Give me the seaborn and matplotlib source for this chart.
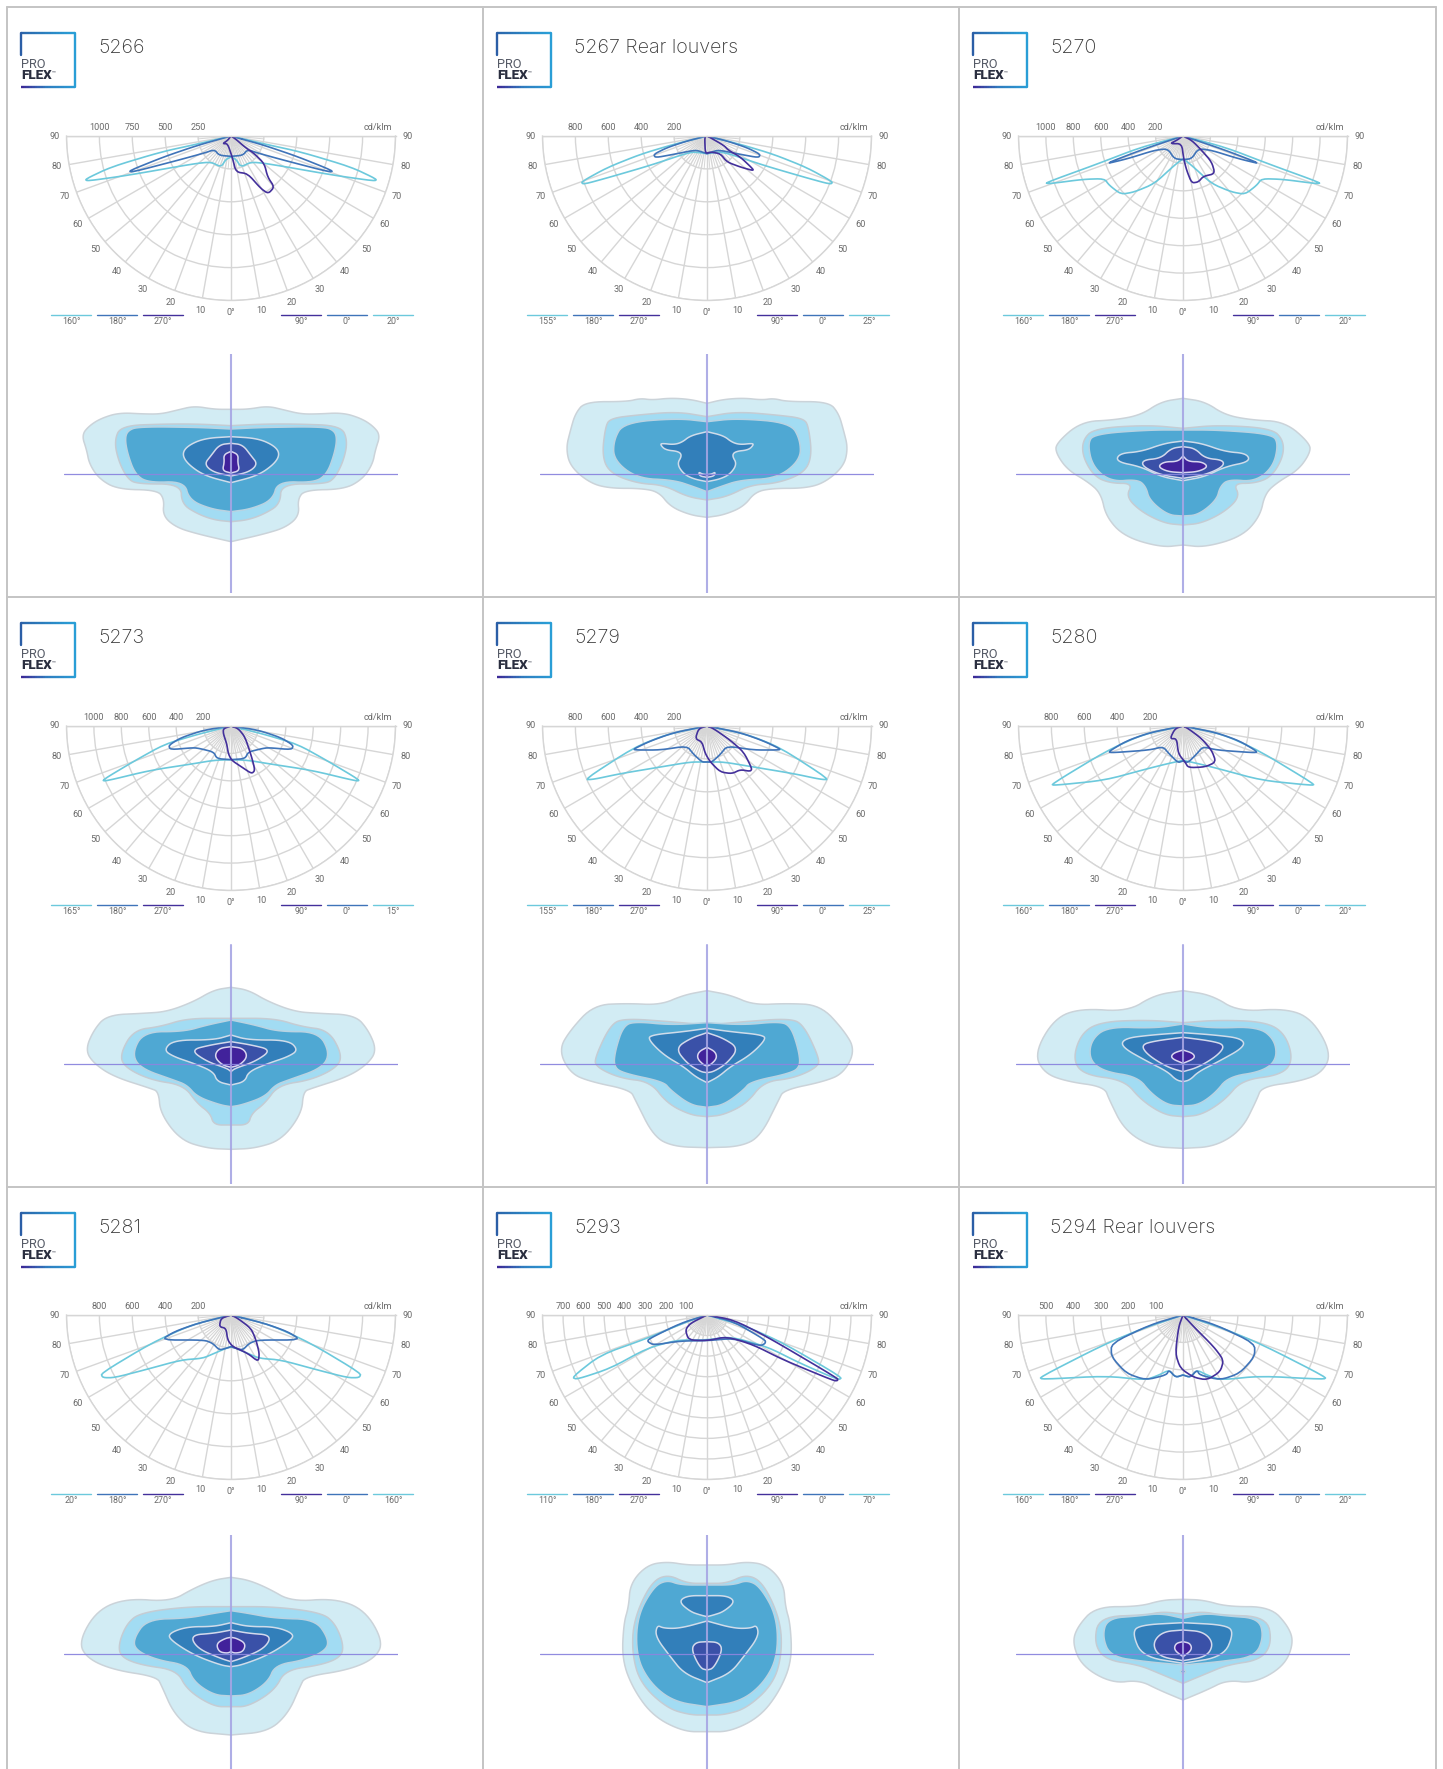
import numpy as np
import seaborn as sns
import matplotlib.pyplot as plt

W, H = 1443, 1769

LIGHT_5266 = [(0,0),(105,25),(210,48),(360,93),(438,130),(430,135),(310,118),(110,83),(60,78),(30,93),(15,70),(0,63)]
MID_5266 = [(0,0),(100,28),(200,62),(307,105),(295,108),(160,73),(80,51),(50,41),(35,58),(0,61)]
DARK_5266 = [(0,0),(15,10),(40,32),(70,53),(100,83),(110,123),(130,153),(112,173),(90,158),(50,113),(15,108),(5,68),(-10,23),(-25,23),(-10,13),(0,0)]

LIGHT_5267 = [(0,0),(100,25),(200,55),(300,95),(378,138),(370,145),(290,123),(170,88),(50,48),(20,50),(0,53)]
MID_5267 = [(0,0),(60,15),(120,35),(160,55),(155,65),(100,55),(50,45),(30,43),(0,53)]
DARK_5267 = [(0,0),(10,5),(50,28),(65,43),(100,63),(140,101),(135,103),(100,93),(60,78),(40,53),(10,48),(-5,53),(-7,3),(0,0)]

LIGHT_5270 = [(0,0),(130,35),(260,85),(414,141),(400,143),(300,130),(236,128),(221,148),(186,175),(146,168),(86,143),(26,88),(0,68)]
MID_5270 = [(0,0),(120,40),(237,85),(166,68),(86,43),(46,38),(26,68),(0,71)]
DARK_5270 = [(0,0),(26,13),(56,43),(86,78),(96,113),(61,121),(46,138),(26,141),(11,103),(2,68),(-4,23),(-39,23),(-19,13),(0,0)]

LIGHT_5273 = [(0,0),(100,25),(200,55),(290,105),(387,163),(375,165),(242,133),(112,113),(52,103),(0,101)]
MID_5273 = [(0,0),(80,12),(150,35),(187,58),(182,71),(112,65),(92,68),(52,78),(42,98),(0,101)]
DARK_5273 = [(0,0),(22,8),(42,33),(62,93),(72,133),(62,143),(32,123),(2,103),(-8,83),(-13,53),(-23,23),(-23,8),(0,0)]

LIGHT_5279 = [(0,0),(120,25),(220,65),(368,161),(340,160),(260,143),(140,123),(50,108),(0,108)]
MID_5279 = [(0,0),(100,20),(170,45),(222,70),(210,72),(140,72),(60,60),(40,85),(15,108),(0,108)]
DARK_5279 = [(0,0),(20,8),(70,43),(110,78),(135,128),(130,136),(100,131),(75,143),(40,138),(10,108),(-5,83),(-15,48),(-35,38),(-25,8),(0,0)]

LIGHT_5280 = [(0,0),(120,25),(230,75),(395,175),(385,178),(236,163),(106,128),(46,113),(0,103)]
MID_5280 = [(0,0),(100,20),(170,45),(225,78),(210,80),(100,72),(60,62),(40,85),(15,110),(0,105)]
DARK_5280 = [(0,0),(16,8),(56,38),(86,73),(99,108),(66,123),(16,125),(6,108),(-14,83),(-19,38),(-39,38),(-24,8),(0,0)]

LIGHT_5281 = [(0,0),(120,30),(240,85),(390,175),(385,188),(350,188),(260,165),(150,135),(85,130),(50,115),(15,100),(0,95)]
MID_5281 = [(0,0),(100,25),(170,50),(210,75),(80,75),(55,85),(35,105),(15,100),(0,95)]
DARK_5281 = [(0,0),(20,10),(60,40),(75,75),(85,115),(82,140),(50,115),(5,95),(-10,75),(-15,40),(-35,35),(-30,10),(0,0)]

# 5293 is not mirrored, so the whole loop is listed
LIGHT_5293 = [(0,0),(120,35),(230,85),(405,187),(395,195),(280,145),(180,95),(70,65),(0,75),(-90,75),(-180,100),(-290,160),(-390,193),(-405,187),(-320,120),(-180,70),(-60,20),(0,0)]
MID_5293 = [(0,0),(80,20),(175,75),(175,85),(160,93),(80,70),(0,77),(-80,78),(-160,90),(-178,80),(-175,72),(-80,25),(0,0)]
DARK_5293 = [(0,0),(80,15),(180,65),(392,190),(392,197),(380,197),(230,135),(140,90),(60,65),(0,77),(-55,75),(-65,45),(-50,25),(0,0)]

LIGHT_5294 = [(0,0),(120,40),(240,90),(430,187),(422,193),(232,183),(112,195),(72,180),(42,165),(22,187),(0,180)]
MID_5294 = [(0,0),(100,30),(215,85),(215,125),(170,175),(112,195),(50,180),(42,165),(22,187),(0,180)]
DARK_5294 = [(0,0),(32,35),(92,95),(122,135),(112,170),(72,195),(32,187),(-8,160),(-23,115),(-13,35),(0,0)]

# isolux outlines, right half from top centre to bottom centre (px at 3x, y up)
ISO_5266 = [
    [(0,194),(50,194),(110,204),(160,192),(210,180),(260,180),(335,184),(390,167),(425,145),(448,117),(433,72),(425,30),(395,-15),(340,-46),(222,-48),(200,-75),(205,-125),(165,-160),(100,-180),(0,-203)],
    [(0,145),(100,150),(200,150),(330,145),(350,100),(338,40),(310,-15),(280,-30),(150,-30),(148,-90),(100,-120),(50,-138),(0,-143)],
    [(0,135),(100,140),(278,142),(310,130),(318,105),(310,60),(288,0),(250,-26),(140,-22),(125,-78),(60,-105),(0,-113)],
    [(0,112),(80,107),(130,85),(147,60),(130,30),(80,-5),(0,-26)],
    [(0,92),(35,88),(60,55),(80,30),(55,6),(0,-6)],
    [(0,68),(22,58),(20,35),(26,10),(0,3)],
]
ISO_5267 = [
    [(0,212),(50,224),(110,228),(165,222),(200,227),(240,217),(365,217),(395,182),(410,130),(423,77),(410,22),(350,-28),(290,-43),(200,-43),(145,-53),(110,-98),(50,-123),(0,-130)],
    [(0,172),(90,187),(210,177),(290,167),(305,142),(315,52),(290,2),(210,-28),(130,-33),(60,-68),(0,-78)],
    [(0,157),(90,167),(250,154),(280,102),(280,42),(210,-13),(100,-18),(40,-38),(0,-53)],
    [(0,127),(50,115),(75,95),(100,88),(135,92),(140,88),(125,72),(85,68),(75,55),(90,30),(70,0),(40,-15),(0,-23)],
    [(0,-2),(15,0),(25,6),(22,-6),(0,-10)],
]
ISO_5270 = [
    [(0,227),(66,217),(126,177),(206,162),(306,157),(381,92),(381,62),(346,12),(286,-23),(246,-58),(231,-128),(176,-188),(66,-220),(0,-213)],
    [(0,137),(106,147),(266,137),(301,102),(301,52),(266,-8),(216,-28),(151,-28),(171,-68),(126,-113),(56,-148),(0,-153)],
    [(0,132),(106,132),(266,120),(286,92),(271,22),(216,-23),(136,-16),(111,-38),(101,-78),(46,-123),(0,-126)],
    [(0,99),(56,92),(126,67),(191,62),(201,37),(126,22),(66,-8),(0,-20)],
    [(0,82),(36,77),(66,47),(121,42),(121,22),(66,-3),(0,-13)],
    [(0,54),(16,37),(56,37),(76,22),(46,7),(0,4)],
]
ISO_5273 = [
    [(0,230),(52,222),(112,187),(192,157),(262,152),(372,147),(412,102),(437,42),(412,2),(352,-38),(242,-73),(217,-83),(212,-148),(152,-228),(72,-253),(0,-256)],
    [(0,137),(132,137),(212,112),(292,102),(332,32),(322,-8),(242,-48),(142,-63),(102,-118),(62,-148),(52,-183),(0,-183)],
    [(0,132),(72,117),(142,97),(262,97),(297,32),(272,-13),(172,-48),(132,-63),(102,-98),(32,-123),(0,-128)],
    [(0,87),(52,72),(172,72),(202,42),(172,22),(112,2),(52,-23),(42,-53),(0,-63)],
    [(0,67),(62,57),(122,42),(72,7),(12,-13),(0,-23)],
    [(0,52),(37,47),(50,22),(27,-3),(0,-10)],
]
ISO_5279 = [
    [(0,220),(70,207),(140,177),(240,182),(340,177),(410,102),(445,42),(410,-28),(350,-53),(230,-78),(215,-108),(160,-218),(100,-248),(0,-251)],
    [(0,117),(110,127),(250,137),(290,117),(335,22),(335,-8),(260,-43),(170,-53),(120,-118),(50,-153),(0,-158)],
    [(0,124),(110,117),(210,127),(250,117),(275,42),(280,-8),(250,-28),(130,-53),(110,-78),(50,-123),(0,-130)],
    [(0,107),(70,97),(170,87),(175,72),(130,27),(70,-8),(35,-38),(0,-56)],
    [(0,94),(50,77),(95,47),(60,2),(20,-23),(0,-26)],
    [(0,50),(25,37),(30,17),(10,-3),(0,-6)],
]
ISO_5280 = [
    [(0,220),(86,207),(166,157),(306,167),(386,137),(446,32),(416,-28),(346,-53),(236,-68),(221,-108),(176,-198),(96,-248),(0,-253)],
    [(0,124),(106,132),(246,127),(306,92),(331,12),(296,-33),(176,-48),(126,-108),(56,-153),(0,-158)],
    [(0,120),(86,107),(226,112),(276,72),(281,12),(236,-23),(136,-38),(96,-88),(46,-123),(0,-126)],
    [(0,94),(96,87),(176,77),(186,52),(106,7),(46,-23),(21,-48),(0,-53)],
    [(0,80),(86,69),(126,57),(106,27),(46,-10),(0,-23)],
    [(0,42),(31,32),(36,17),(0,2)],
]
ISO_5281 = [
    [(0,230),(52,222),(112,197),(182,157),(312,167),(402,132),(457,37),(432,-13),(352,-48),(222,-68),(207,-98),(172,-178),(112,-233),(0,-243)],
    [(0,142),(132,142),(272,124),(312,92),(337,32),(332,-8),(272,-33),(162,-48),(132,-108),(52,-158),(0,-158)],
    [(0,130),(52,122),(132,107),(252,104),(292,47),(287,12),(222,-18),(132,-33),(112,-83),(52,-123),(0,-126)],
    [(0,94),(52,82),(132,82),(187,62),(182,42),(112,-3),(32,-33),(0,-38)],
    [(0,72),(52,62),(122,57),(102,17),(32,-13),(0,-23)],
    [(0,50),(17,47),(44,32),(37,7),(12,2),(0,7)],
]
ISO_5293 = [
    [(0,267),(60,267),(120,277),(180,267),(230,212),(235,142),(250,92),(255,-18),(220,-108),(160,-188),(70,-233),(0,-233)],
    [(0,212),(60,212),(120,240),(170,212),(220,102),(225,2),(200,-88),(120,-163),(50,-183),(0,-183)],
    [(0,207),(80,207),(120,222),(160,202),(210,112),(212,-8),(170,-88),(100,-143),(0,-158)],
    [(0,175),(60,175),(85,157),(50,127),(20,117),(0,112)],
    [(0,99),(80,77),(130,77),(150,87),(155,52),(110,-8),(70,-58),(0,-86)],
    [(0,37),(35,35),(47,12),(20,-43),(0,-48)],
]
LEVELS_5293 = [0, 1, 2, 3, 3, 4]
ISO_5294 = [
    [(0,164),(62,162),(132,142),(262,142),(317,82),(332,32),(302,-38),(212,-88),(132,-78),(72,-108),(0,-138)],
    [(0,120),(62,127),(112,117),(252,112),(267,32),(232,-18),(132,-33),(72,-58),(12,-83),(0,-88)],
    [(0,107),(67,122),(132,114),(227,107),(242,52),(217,-8),(112,-23),(0,-33)],
    [(0,-45),(10,-53),(0,-60)],
    [(0,94),(132,87),(152,62),(122,-8),(0,-28)],
    [(0,72),(62,67),(92,32),(72,-8),(0,-20)],
    [(0,37),(22,32),(27,12),(0,-8)],
]
LEVELS_5294 = [0, 1, 2, 2, 3, 4, 5]

TITLES = ["5266", "5267 Rear louvers", "5270", "5273", "5279", "5280", "5281", "5293", "5294 Rear louvers"]
OUTER = [1250, 1000, 1200, 1200, 1000, 1000, 1000, 800, 600]
STEP = [250, 200, 200, 200, 200, 200, 200, 100, 100]
LEFT_PLANE = ["160°", "155°", "160°", "165°", "155°", "160°", "20°", "110°", "160°"]
RIGHT_PLANE = ["20°", "25°", "20°", "15°", "25°", "20°", "160°", "70°", "20°"]

LIGHTS = [LIGHT_5266, LIGHT_5267, LIGHT_5270, LIGHT_5273, LIGHT_5279, LIGHT_5280, LIGHT_5281, LIGHT_5293, LIGHT_5294]
MIDS = [MID_5266, MID_5267, MID_5270, MID_5273, MID_5279, MID_5280, MID_5281, MID_5293, MID_5294]
DARKS = [DARK_5266, DARK_5267, DARK_5270, DARK_5273, DARK_5279, DARK_5280, DARK_5281, DARK_5293, DARK_5294]
ISOS = [ISO_5266, ISO_5267, ISO_5270, ISO_5273, ISO_5279, ISO_5280, ISO_5281, ISO_5293, ISO_5294]

C_LIGHT, C_MID, C_DARK = "#6cc9dc", "#3f74b9", "#43309b"
C_GRID = "#d6d6d6"
C_TEXT = "#6a6a6a"
FILLS = ["#d2ecf4", "#a2dcf3", "#4fa8d3", "#327fba", "#3a51a8", "#41229b"]
EDGES = ["#cbd3d9", "#c5ccd3", "#b9d3e2", "#cfdcea", "#d3d9ec", "#d9d6f0"]

COL_X = [231, 707, 1183]
ROW_Y = [136, 726, 1315]
ISO_Y = [474, 1064, 1654]
PANEL_X = [7, 483, 959, 1436]
PANEL_Y = [7, 597, 1187, 1769]
R = 164.5

sns.set_theme(style="white")
plt.rcParams["font.family"] = ["Roboto", "DejaVu Sans"]


def smooth(pts, cut=0.2, n=2):
    # corner cutting on a closed loop
    p = np.asarray(pts, dtype=float)
    for _ in range(n):
        q = np.roll(p, -1, axis=0)
        p = np.column_stack([(1 - cut) * p + cut * q, cut * p + (1 - cut) * q]).reshape(-1, 2)
    return np.vstack([p, p[:1]])


def mirror(pts):
    p = np.asarray(pts, dtype=float)
    return np.vstack([p, p[::-1] * [-1, 1]])


def draw_polar(i, cx, cy):
    outer = OUTER[i]
    # a half wedge sits centred in a square box, so the origin ends up R/2 below the box top
    ax = fig.add_axes([(cx - R) / W, 1 - (cy + 1.5 * R) / H, 2 * R / W, 2 * R / H], projection="polar")
    ax.patch.set_alpha(0)
    ax.set_theta_zero_location("S")
    for deg in range(5, 90, 10):
        for sign in (-1, 1):
            ax.plot([sign * np.radians(deg)] * 2, [0, STEP[i]], color=C_GRID, lw=0.7)

    for pts, color, symmetric in ((LIGHTS[i], C_LIGHT, i != 7), (MIDS[i], C_MID, i != 7), (DARKS[i], C_DARK, False)):
        loop = mirror(pts) if symmetric else np.asarray(pts, dtype=float)
        loop = smooth(loop)
        theta = np.arctan2(loop[:, 0], loop[:, 1])
        r = np.hypot(loop[:, 0], loop[:, 1]) * outer / 493.5
        sns.lineplot(x=theta, y=r, sort=False, estimator=None, errorbar=None, color=color, lw=1.2, ax=ax)

    ax.set_thetalim(-np.pi / 2, np.pi / 2)
    ax.set_ylim(0, outer)
    ax.set_xlabel("")
    ax.set_ylabel("")
    ax.set_thetagrids(np.arange(-90, 91, 10), labels=[""] * 19)
    rings = np.arange(0, outer + 1, outer / round(outer / STEP[i]))[1:]
    ax.set_rgrids(rings, labels=[""] * len(rings))
    ax.grid(True, color=C_GRID, lw=1.0)
    ax.tick_params(length=0)
    for name, sp in ax.spines.items():
        sp.set_color(C_GRID)
        sp.set_linewidth(1.0)
        sp.set_visible(name != "inner")

    for deg in range(-90, 91, 10):
        txt = "0°" if deg == 0 else str(abs(deg))
        ax.text(np.radians(deg), outer * 1.075, txt, ha="center", va="center", fontsize=6.6, color=C_TEXT, clip_on=False)
    for val in range(STEP[i], outer, STEP[i]):
        ax.annotate(str(val), (-np.pi / 2, val), xytext=(0, 5.8), textcoords="offset points",
                    ha="center", va="center", fontsize=6.6, color=C_TEXT, annotation_clip=False)
    ax.annotate("cd/klm", (np.pi / 2, outer * 0.895), xytext=(0, 5.8), textcoords="offset points",
                ha="center", va="center", fontsize=6.6, color=C_TEXT, annotation_clip=False)


def draw_iso(i, cx, cy):
    ax = fig.add_axes([(cx - 167) / W, 1 - (cy + 119.5) / H, 334 / W, 239 / H])
    ax.set_xlim(-501, 501)
    ax.set_ylim(-358.5, 358.5)
    ax.axis("off")
    ax.patch.set_alpha(0)
    levels = {7: LEVELS_5293, 8: LEVELS_5294}.get(i, range(len(ISOS[i])))
    for pts, lev in zip(ISOS[i], levels):
        loop = smooth(mirror(pts), cut=0.25, n=3)
        ax.fill(loop[:, 0], loop[:, 1], facecolor=FILLS[lev], edgecolor=EDGES[lev], lw=1.1)
    ax.axvline(0, color="#a6a5e4", lw=1.5, alpha=0.9)
    ax.axhline(0, color="#8b86de", lw=0.9, alpha=0.95)


def draw_logo(x0, y0):
    left, right, top, bottom = x0 + 14, x0 + 68, y0 + 26, y0 + 80
    blues = sns.blend_palette(["#2b66ab", "#2aa0d8"], 20)
    lower = sns.blend_palette(["#3c2b97", "#2f7ec0", "#2a9ad4"], 20)
    for k in range(20):
        xa = left + (right - left) * k / 20
        xb = left + (right - left) * (k + 1) / 20
        ov.plot([xa, xb], [top, top], color=blues[k], lw=1.7, solid_capstyle="butt")
        ov.plot([xa, xb], [bottom, bottom], color=lower[k], lw=1.7, solid_capstyle="butt")
    ov.plot([right, right], [top, bottom], color="#2a9ed6", lw=1.7)
    ov.plot([left, left], [top, top + 22], color="#2b5ea6", lw=1.7)
    ov.text(left, y0 + 61, "PRO", fontsize=9.2, color="#555a66", ha="left", va="baseline")
    ov.text(left, y0 + 72, "FLEX", fontsize=9.6, color="#2b2f40", ha="left", va="baseline", fontweight="black")
    ov.text(left + 31, y0 + 67, "™", fontsize=4.5, color="#2b2f40", ha="left", va="baseline")


fig = plt.figure(figsize=(W / 100, H / 100), dpi=100, facecolor="white")
ov = fig.add_axes([0, 0, 1, 1])
ov.set_xlim(0, W)
ov.set_ylim(H, 0)
ov.axis("off")

for x in PANEL_X:
    ov.plot([x, x], [PANEL_Y[0], H], color="#c4c4c4", lw=1.4)
for y in PANEL_Y[:3]:
    ov.plot([PANEL_X[0], PANEL_X[3]], [y, y], color="#c4c4c4", lw=1.4)

for i, title in enumerate(TITLES):
    row, col = divmod(i, 3)
    x0, y0 = PANEL_X[col], PANEL_Y[row]
    cx, cy = COL_X[col], ROW_Y[row]
    draw_logo(x0, y0)
    ov.text(x0 + 91, y0 + 46, title, fontsize=14.2, color="#3a3a3a", ha="left", va="baseline",
            family=["Inter", "Roboto"], fontweight="light")

    planes = [(-180, C_LIGHT, LEFT_PLANE[i]), (-134, C_MID, "180°"), (-88, C_DARK, "270°"),
              (50, C_DARK, "90°"), (96, C_MID, "0°"), (142, C_LIGHT, RIGHT_PLANE[i])]
    for off, color, lab in planes:
        ov.plot([cx + off, cx + off + 40], [cy + 179, cy + 179], color=color, lw=1.0)
        ov.text(cx + off + 20, cy + 185.5, lab, fontsize=6.4, color=C_TEXT, ha="center", va="center")

    draw_polar(i, cx, cy)
    draw_iso(i, cx, ISO_Y[row])

fig.savefig("out.png", dpi=100, facecolor="white")
